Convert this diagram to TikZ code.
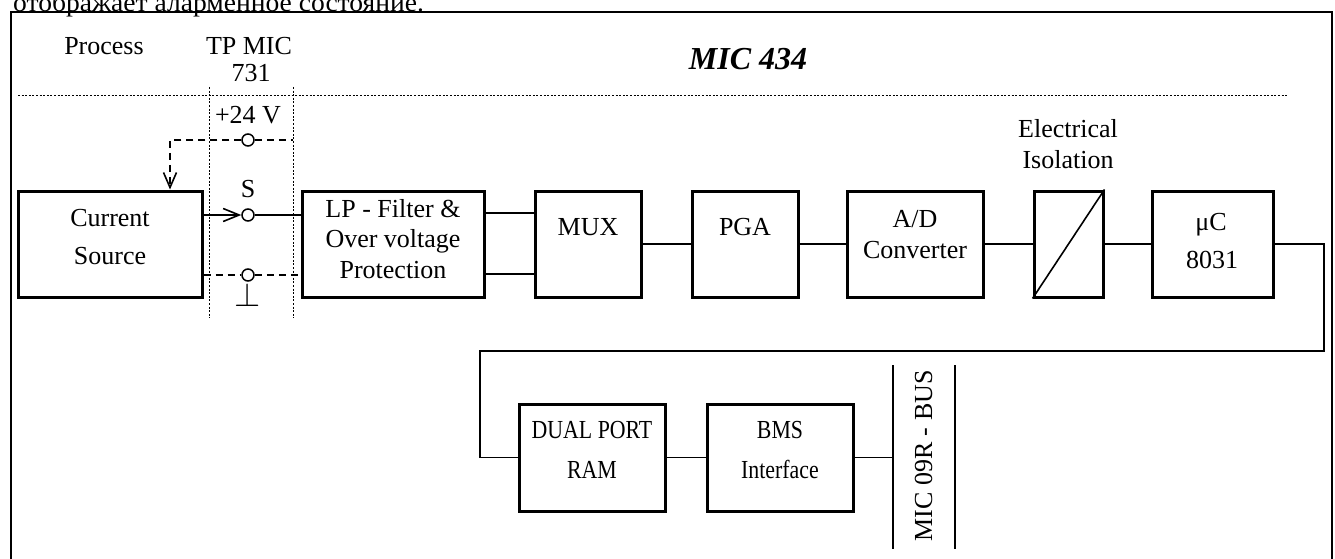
\documentclass[tikz,border=0pt]{standalone}
\usepackage{fontspec}
\setmainfont{Liberation Serif}
\usetikzlibrary{arrows.meta}
\begin{document}
\begin{tikzpicture}[x=1pt,y=-1pt,
  every node/.style={font=\fontsize{26}{30}\selectfont, inner sep=0pt},
  blk/.style={draw, line width=3pt, minimum height=106pt},
  con/.style={line width=1.6pt},
  dsh/.style={line width=1.6pt, dash pattern=on 7pt off 5pt},
  term/.style={circle, draw, fill=white, line width=1.5pt, minimum size=12pt},
  frm/.style={line width=2.2pt},
  dots/.style={line width=0.8pt, dash pattern=on 2pt off 1.6pt},
  txt/.style={anchor=base}
]
\useasboundingbox (0,0) rectangle (1335,559);
\clip (0,0) rectangle (1335,559);
\fill[white] (0,0) rectangle (1335,559);

% cut-off caption at the top
\node[anchor=base west] (cap) at (13,12) {\scalebox{1.06}[1]{отображает аларменное состояние.}};

% outer frame
\draw[frm] (11,600) -- (11,12) -- (1332,12) -- (1332,600);

% dotted separators
\draw[dots] (18,95) -- (1288,95);
\draw[dots] (209,87) -- (209,318);
\draw[dots] (293,87) -- (293,318);

% header texts
\node[txt] (proc) at (104,55) {Process};
\node[txt] (tp1) at (249,55) {TP MIC};
\node[txt] (tp2) at (251,82) {731};
\node[txt, font=\fontsize{32}{36}\selectfont\bfseries\itshape] (mic) at (748,70) {MIC 434};

% blocks
\node[blk, minimum width=184pt] (cs) at (110,244) {};
\node[blk, minimum width=182pt] (lp) at (393,244) {};
\node[blk, minimum width=106pt] (mux) at (588,244) {};
\node[blk, minimum width=106pt] (pga) at (745,244) {};
\node[blk, minimum width=136pt] (ad) at (915,244) {};
\node[blk, minimum width=69pt] (iso) at (1068.5,244) {};
\node[blk, minimum width=121pt] (uc) at (1212.5,244) {};
\node[blk, minimum width=146pt, minimum height=107pt] (dp) at (592,457.5) {};
\node[blk, minimum width=146pt, minimum height=107pt] (bms) at (780,457.5) {};

% block texts
\node[txt] (t-cs1) at (110,226) {Current};
\node[txt] (t-cs2) at (110,264) {Source};
\node[txt] (t-lp1) at (393,217) {LP - Filter \&};
\node[txt] (t-lp2) at (393,247) {Over voltage};
\node[txt] (t-lp3) at (393,278) {Protection};
\node[txt] (t-mux) at (588,235) {MUX};
\node[txt] (t-pga) at (745,235) {PGA};
\node[txt] (t-ad1) at (915,227) {A/D};
\node[txt] (t-ad2) at (915,258) {Converter};
\node[txt] (t-el1) at (1068,138) {Electrical};
\node[txt] (t-el2) at (1068,168) {Isolation};
\node[txt] (t-uc1) at (1211,230) {μC};
\node[txt] (t-uc2) at (1212,268) {8031};
\node[txt] (t-dp1) at (592,438) {\scalebox{0.84}[1]{DUAL PORT}};
\node[txt] (t-dp2) at (592,478) {\scalebox{0.84}[1]{RAM}};
\node[txt] (t-bm1) at (780,438) {\scalebox{0.84}[1]{BMS}};
\node[txt] (t-bm2) at (780,478) {\scalebox{0.84}[1]{Interface}};

% isolation diagonal
\draw[con] (iso.south west) -- (iso.north east);

% terminals
\coordinate (c24) at (170,140);
\coordinate (r24) at (293,140);
\node[term] (tp) at (248,140) {};
\node[term] (ts) at (248,215) {};
\node[term] (tg) at (248,275) {};
\node[txt] (l24) at (248,124) {+24 V};
\node[txt] (lS) at (248,197) {S};
\node[txt] (lg) at (248,306) {\scalebox{1.35}{$\perp$}};

% terminal wiring
\draw[dsh, -{Straight Barb[length=15pt,width=13pt,line width=1.6pt]}] (tp.west) -- (c24) -- (c24 |- cs.north);
\draw[dsh] (tp.east) -- (r24);
\draw[con, -{Straight Barb[length=16pt,width=13pt,line width=1.6pt]}] (cs.east |- ts) -- (ts.west);
\draw[con] (ts.east) -- (lp.west |- ts);
\draw[dsh] (cs.east |- tg) -- (tg.west);
\draw[dsh] (tg.east) -- (lp.west |- tg);

% main chain
\coordinate (y1) at (0,213);
\coordinate (y2) at (0,274);
\draw[con] (lp.east |- y1) -- (mux.west |- y1);
\draw[con] (lp.east |- y2) -- (mux.west |- y2);
\draw[con] (mux.east) -- (pga.west);
\draw[con] (pga.east) -- (ad.west);
\draw[con] (ad.east) -- (iso.west);
\draw[con] (iso.east) -- (uc.west);

% return path to dual port RAM
\coordinate (b1) at (1324,351);
\coordinate (b2) at (480,351);
\draw[con] (uc.east) -| (b1) -- (b2) |- (dp.west);
\draw[con] (dp.east) -- (bms.west);

% bus
\coordinate (busl) at (893,457.5);
\draw[con] (bms.east) -- (busl);
\draw[con] (893,365) -- (893,549);
\draw[con] (955,365) -- (955,549);
\node[anchor=base, rotate=90] (busT) at (932,456) {MIC 09R - BUS};
\end{tikzpicture}
\end{document}
